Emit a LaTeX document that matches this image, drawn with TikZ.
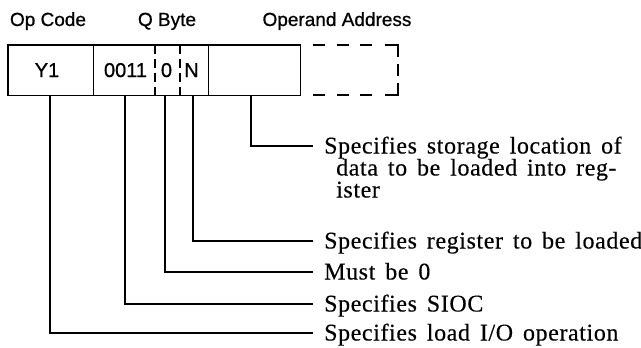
\documentclass[tikz,border=0pt]{standalone}
\usepackage{fontspec}
\setmainfont{Liberation Serif}
\newfontfamily\lblfont[FakeBold=0.8]{Liberation Sans}
\newfontfamily\descfont[WordSpace=1.5,LetterSpace=2.5,FakeBold=0.3]{Liberation Serif}
\begin{document}
\begin{tikzpicture}[x=1pt,y=-1pt,
  frame/.style={line width=1.5pt, line cap=rect},
  leader/.style={line width=1.3pt},
  hdr/.style={font=\lblfont\fontsize{19}{22}\selectfont, inner sep=0pt, anchor=base},
  fld/.style={font=\lblfont\fontsize{20}{22}\selectfont, inner sep=0pt, anchor=base},
  desc/.style={font=\descfont\fontsize{24}{22}\selectfont, inner xsep=11pt, inner ysep=0pt,
    text height=17pt, text depth=2pt, anchor=west},
  descc/.style={font=\descfont\fontsize{24}{22}\selectfont, inner sep=0pt, anchor=base west},
  qdash/.style={line width=1.5pt, dash pattern=on 9pt off 5pt}
]
\useasboundingbox (0,0) rectangle (641,348);
% headers
\node[hdr] (hop) at (48,26) {Op Code};
\node[hdr] (hq) at (167,26) {Q Byte};
\node[hdr] (hopd) at (337,26) {Operand Address};
% fields
\node[draw=none, minimum width=85pt, minimum height=50pt, inner sep=0pt, anchor=north west] (op) at (8,45) {};
\node[draw=none, minimum width=115pt, minimum height=50pt, inner sep=0pt, anchor=north west] (q) at (93,45) {};
\node[draw=none, minimum width=92pt, minimum height=50pt, inner sep=0pt, anchor=north west] (opd) at (208,45) {};
\draw[frame] (op.north west) rectangle (opd.south east);
\draw[frame] (op.north east) -- (op.south east);
\draw[frame] (q.north east) -- (q.south east);
\draw[qdash] (155,45) -- (155,95);
\draw[qdash] (180,45) -- (180,95);
\node[fld] (y1) at (47,77) {Y1};
\node[fld] (f0011) at (125.5,77) {0011};
\node[fld] (fz) at (166.5,77) {0};
\node[fld] (fn) at (191.5,77) {N};
% dashed extension
\foreach \a/\b in {313/325,337/349,360/372} {
  \draw[frame, line cap=butt] (\a,45) -- (\b,45);
  \draw[frame, line cap=butt] (\a,95) -- (\b,95);
}
\draw[frame, line cap=butt] (385,45) -- (398,45) -- (398,57);
\draw[frame, line cap=butt] (385,95) -- (398,95) -- (398,83);
\draw[frame, line cap=butt] (398,64) -- (398,76);
% descriptions
\node[desc] (t5) at (313,146) {Specifies storage location of};
\node[descc] (t5b) at (336,175.5) {data to be loaded into reg-};
\node[descc] (t5c) at (336,197.5) {ister};
\node[desc] (t4) at (313,241) {Specifies register to be loaded};
\node[desc] (t3) at (313,272) {Must be 0};
\node[desc] (t2) at (313,304) {Specifies SIOC};
\node[desc] (t1) at (313,333) {Specifies load I/O operation};
% leaders
\coordinate (l1) at (50,95);
\coordinate (l2) at (125,95);
\coordinate (l3) at (165,95);
\coordinate (l4) at (193,95);
\coordinate (l5) at (251,95);
\draw[leader] (l1) |- (t1.west);
\draw[leader] (l2) |- (t2.west);
\draw[leader] (l3) |- (t3.west);
\draw[leader] (l4) |- (t4.west);
\draw[leader] (l5) |- (t5.west);
\end{tikzpicture}
\end{document}
